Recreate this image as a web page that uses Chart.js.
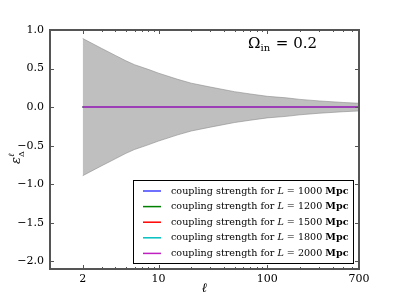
<!DOCTYPE html>
<html>
<head>
<meta charset="utf-8">
<script src="https://cdn.jsdelivr.net/npm/chart.js@4/dist/chart.umd.min.js"></script>
<style>
  html, body { margin: 0; padding: 0; background: #fff; }
  #wrap { width: 399px; height: 299px; }
</style>
</head>
<body>
<div id="wrap"><canvas id="c" width="399" height="299"></canvas></div>
<script>
// data
const ells = [2, 3, 4, 5, 6, 8, 10, 15, 20, 30, 50, 70, 100, 150, 200, 300, 500, 700];
const bandUpper = [0.89, 0.76, 0.67, 0.60, 0.55, 0.49, 0.44, 0.36, 0.31, 0.26, 0.20, 0.17, 0.14, 0.12, 0.10, 0.08, 0.06, 0.05];
const bandLower = [-0.89, -0.76, -0.67, -0.60, -0.55, -0.49, -0.44, -0.36, -0.31, -0.26, -0.20, -0.17, -0.14, -0.12, -0.10, -0.08, -0.06, -0.05];

const lineEll = [2, 10, 100, 700];
const coupling1000 = [0.0, 0.0, 0.0, 0.0];
const coupling1200 = [0.0, 0.0, 0.0, 0.0];
const coupling1500 = [0.0, 0.0, 0.0, 0.0];
const coupling1800 = [0.0, 0.0, 0.0, 0.0];
const coupling2000 = [0.0, 0.0, 0.0, 0.0];

const lengths = ['1000', '1200', '1500', '1800', '2000'];
const lineColors = ['#4040ff', '#008000', '#ff0000', '#00bfbf', '#c020c0'];

const xTicks = [2, 10, 100, 700];
const xMinor = [3, 4, 5, 6, 7, 8, 9, 20, 30, 40, 50, 60, 70, 80, 90, 200, 300, 400, 500, 600];
const yTicks = [-2.0, -1.5, -1.0, -0.5, 0.0, 0.5, 1.0];

const SERIF = '"DejaVu Serif", "Liberation Serif", serif';
const AXIS = '#555';

function pts(xs, ys) { return xs.map((x, i) => ({ x: x, y: ys[i] })); }

// band drawn underneath everything (higher order = drawn first)
const datasets = [
  { data: pts(ells, bandUpper), borderColor: '#8c8c8c', borderWidth: 0.6, backgroundColor: '#bfbfbf', fill: '+1', pointRadius: 0, tension: 0, order: 10 },
  { data: pts(ells, bandLower), borderColor: '#8c8c8c', borderWidth: 0.6, fill: false, pointRadius: 0, tension: 0, order: 9 }
];
[coupling1000, coupling1200, coupling1500, coupling1800, coupling2000].forEach((s, i) => {
  datasets.push({ data: pts(lineEll, s), borderColor: lineColors[i], borderWidth: 1.5, fill: false, pointRadius: 0, order: 4 - i });
});

// frame, inward ticks, legend and texts
const decor = {
  id: 'decor',
  afterDraw(chart) {
    const ctx = chart.ctx, a = chart.chartArea;
    const xs = chart.scales.x, ys = chart.scales.y;
    ctx.save();
    ctx.strokeStyle = AXIS;
    ctx.lineWidth = 1;
    ctx.beginPath();
    xTicks.forEach(v => {
      const p = Math.round(xs.getPixelForValue(v)) + 0.5;
      ctx.moveTo(p, a.bottom); ctx.lineTo(p, a.bottom - 4);
      ctx.moveTo(p, a.top); ctx.lineTo(p, a.top + 4);
    });
    xMinor.forEach(v => {
      const p = Math.round(xs.getPixelForValue(v)) + 0.5;
      ctx.moveTo(p, a.bottom); ctx.lineTo(p, a.bottom - 2);
      ctx.moveTo(p, a.top); ctx.lineTo(p, a.top + 2);
    });
    yTicks.forEach(v => {
      const p = Math.round(ys.getPixelForValue(v)) + 0.5;
      ctx.moveTo(a.left, p); ctx.lineTo(a.left + 4, p);
      ctx.moveTo(a.right, p); ctx.lineTo(a.right - 4, p);
    });
    ctx.stroke();
    ctx.lineWidth = 2;
    ctx.strokeRect(a.left, a.top, a.right - a.left, a.bottom - a.top);

    // legend box
    const bx = 133, by = 180, bw = 220, bh = 83;
    ctx.fillStyle = '#fff';
    ctx.fillRect(bx, by, bw, bh);
    ctx.strokeStyle = '#000';
    ctx.lineWidth = 1;
    ctx.strokeRect(bx + 0.5, by + 0.5, bw, bh);
    ctx.textBaseline = 'middle';
    lengths.forEach((L, i) => {
      const y = by + 11 + i * 15.6;
      ctx.strokeStyle = lineColors[i];
      ctx.lineWidth = 1.5;
      ctx.beginPath(); ctx.moveTo(bx + 10, y); ctx.lineTo(bx + 28, y); ctx.stroke();
      let x = bx + 38;
      ctx.fillStyle = '#000';
      const parts = [
        ['9.6px ' + SERIF, 'coupling strength for '],
        ['italic 9.6px ' + SERIF, 'L'],
        ['9.6px ' + SERIF, ' = ' + L + ' '],
        ['bold 9.6px ' + SERIF, 'Mpc']
      ];
      parts.forEach(([f, t]) => {
        ctx.font = f;
        ctx.fillText(t, x, y);
        x += ctx.measureText(t).width;
      });
    });

    // Omega annotation
    ctx.fillStyle = '#000';
    ctx.textBaseline = 'alphabetic';
    let tx = 248;
    ctx.font = '15px ' + SERIF;
    ctx.fillText('\u03A9', tx, 48); tx += ctx.measureText('\u03A9').width;
    ctx.font = '10px ' + SERIF;
    ctx.fillText('in', tx, 51); tx += ctx.measureText('in').width + 1;
    ctx.font = '15px ' + SERIF;
    ctx.fillText(' = 0.2', tx, 48);

    // axis labels
    ctx.font = 'italic 13px ' + SERIF;
    ctx.textAlign = 'center';
    ctx.fillText('\u2113', (a.left + a.right) / 2, 292);

    ctx.save();
    ctx.translate(20, 158);
    ctx.rotate(-Math.PI / 2);
    ctx.textAlign = 'left';
    ctx.font = 'italic 13px ' + SERIF;
    ctx.fillText('\u03B5', -6, 0);
    ctx.font = 'italic 8px ' + SERIF;
    ctx.fillText('\u2113', 1, -6);
    ctx.font = '8px ' + SERIF;
    ctx.fillText('\u0394', 1, 4);
    ctx.restore();
    ctx.restore();
  }
};

new Chart(document.getElementById('c'), {
  type: 'line',
  data: { datasets: datasets },
  plugins: [decor],
  options: {
    responsive: false,
    animation: false,
    layout: { padding: { top: 30, right: 40, left: 0, bottom: 0 } },
    plugins: { legend: { display: false }, tooltip: { enabled: false } },
    scales: {
      x: {
        type: 'logarithmic', min: 1, max: 700,
        grid: { display: false, drawTicks: false },
        border: { display: false },
        afterFit(s) { s.height = 30; },
        afterBuildTicks(s) { s.ticks = xTicks.map(v => ({ value: v })); },
        ticks: {
          autoSkip: false, maxRotation: 0, padding: 4,
          color: '#000', font: { family: SERIF, size: 11 },
          callback: v => String(v)
        }
      },
      y: {
        type: 'linear', min: -2.1, max: 1.0,
        grid: { display: false, drawTicks: false },
        border: { display: false },
        afterFit(s) { s.width = 50; },
        afterBuildTicks(s) { s.ticks = yTicks.map(v => ({ value: v })); },
        ticks: {
          padding: 6,
          color: '#000', font: { family: SERIF, size: 11 },
          callback: v => (v < 0 ? '\u2212' : '') + Math.abs(v).toFixed(1)
        }
      }
    }
  }
});
</script>
</body>
</html>
